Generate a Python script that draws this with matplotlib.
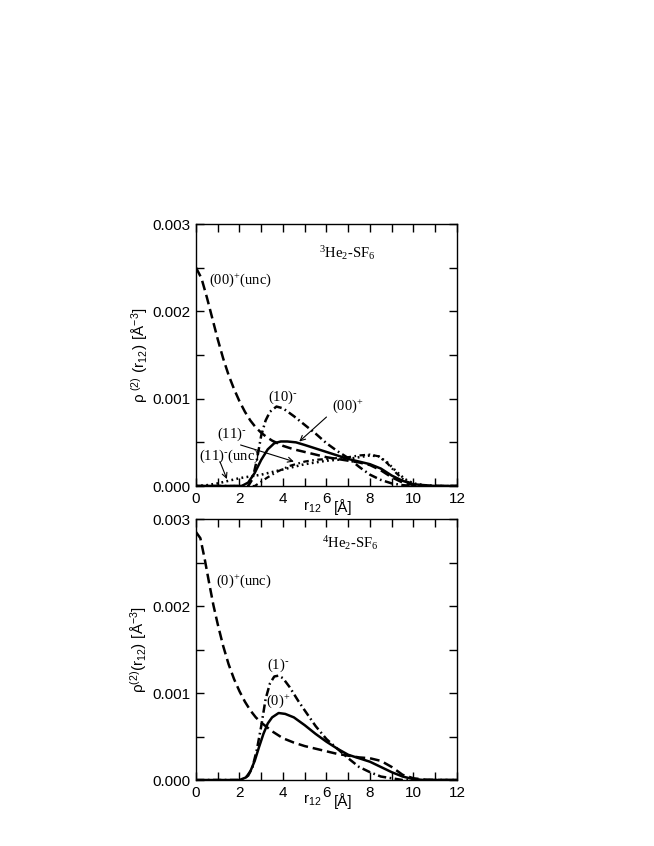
import matplotlib

matplotlib.use("Agg")

import matplotlib.pyplot as plt
from matplotlib.ticker import MultipleLocator

plt.rcParams["font.family"] = ["Liberation Sans", "DejaVu Sans"]
plt.rcParams["lines.scale_dashes"] = False

SERIF = ["Liberation Serif", "DejaVu Serif"]

# --- top panel: 3He2-SF6 (values in units of 1e-3 A^-3) ---
x_unc3 = [0, 0.25, 0.5, 0.75, 1, 1.25, 1.5, 1.75, 2, 2.25, 2.5, 2.75, 3, 3.25, 3.5,
          3.75, 4, 4.5, 5, 5.5, 6, 6.5, 7, 7.5, 8, 8.5, 9, 9.5, 10, 10.5, 11, 12]
y_unc3 = [2.50, 2.38, 2.16, 1.92, 1.68, 1.46, 1.27, 1.11, 0.97, 0.85, 0.75, 0.67, 0.61,
          0.56, 0.52, 0.49, 0.46, 0.42, 0.39, 0.36, 0.33, 0.31, 0.29, 0.27, 0.24, 0.18,
          0.10, 0.04, 0.01, 0.0, 0.0, 0.0]

x_10 = [0, 2.4, 2.6, 2.8, 3.0, 3.2, 3.4, 3.7, 4.0, 4.5, 5.0, 5.5, 6.0, 6.5, 7.0, 7.5,
        8.0, 8.5, 9.0, 9.5, 10, 12]
y_10 = [0, 0, 0.08, 0.30, 0.58, 0.75, 0.85, 0.91, 0.89, 0.80, 0.70, 0.60, 0.49, 0.40,
        0.32, 0.22, 0.13, 0.07, 0.03, 0.01, 0.0, 0.0]

x_00 = [0, 2.1, 2.4, 2.7, 3.0, 3.3, 3.6, 3.9, 4.2, 4.6, 5.0, 5.5, 6.0, 6.5, 7.0, 7.5,
        8.0, 8.5, 9.0, 9.5, 10, 10.5, 11, 12]
y_00 = [0, 0, 0.04, 0.15, 0.30, 0.42, 0.49, 0.51, 0.51, 0.50, 0.47, 0.43, 0.39, 0.35,
        0.31, 0.28, 0.25, 0.20, 0.12, 0.06, 0.02, 0.01, 0.0, 0.0]

x_11 = [0, 2.7, 3.0, 3.3, 3.7, 4.3, 5.0, 5.5, 6.0, 6.5, 7.0, 7.5, 8.0, 8.4, 8.8, 9.2,
        9.6, 10, 10.5, 12]
y_11 = [0, 0, 0.05, 0.10, 0.16, 0.23, 0.28, 0.30, 0.31, 0.32, 0.33, 0.35, 0.36, 0.34,
        0.26, 0.15, 0.06, 0.02, 0.0, 0.0]

x_11unc = [0, 0.5, 1.0, 1.5, 2.0, 2.5, 3.0, 3.5, 4.0, 4.5, 5.0, 5.5, 6.0, 6.5, 7.0, 7.5,
           8.0, 8.4, 8.8, 9.2, 9.6, 10, 10.5, 11, 12]
y_11unc = [0, 0.01, 0.03, 0.06, 0.09, 0.11, 0.13, 0.16, 0.19, 0.22, 0.25, 0.27, 0.29,
           0.30, 0.31, 0.33, 0.35, 0.34, 0.27, 0.17, 0.08, 0.03, 0.01, 0.0, 0.0]

# --- bottom panel: 4He2-SF6 ---
x_unc4 = [0, 0.2, 0.4, 0.6, 0.8, 1.0, 1.25, 1.5, 1.75, 2.0, 2.25, 2.5, 2.75, 3.0, 3.5,
          4.0, 4.5, 5.0, 5.5, 6.0, 6.5, 7.0, 7.5, 8.0, 8.5, 9.0, 9.5, 10, 10.5, 11, 12]
y_unc4 = [2.85, 2.78, 2.54, 2.27, 2.01, 1.79, 1.54, 1.33, 1.16, 1.02, 0.90, 0.80, 0.72,
          0.66, 0.56, 0.48, 0.43, 0.39, 0.36, 0.33, 0.30, 0.28, 0.26, 0.25, 0.22, 0.15,
          0.06, 0.02, 0.005, 0.0, 0.0]

x_0 = [0, 2.0, 2.3, 2.5, 2.7, 2.9, 3.1, 3.3, 3.5, 3.8, 4.1, 4.5, 5.0, 5.5, 6.0, 6.5,
       7.0, 7.5, 8.0, 8.5, 9.0, 9.5, 10, 10.5, 12]
y_0 = [0, 0, 0.03, 0.10, 0.22, 0.38, 0.53, 0.65, 0.72, 0.77, 0.76, 0.72, 0.63, 0.53,
       0.44, 0.36, 0.29, 0.25, 0.21, 0.15, 0.09, 0.04, 0.01, 0.0, 0.0]

x_1 = [0, 2.1, 2.4, 2.6, 2.8, 3.0, 3.2, 3.4, 3.6, 3.8, 4.0, 4.3, 4.7, 5.0, 5.5, 6.0,
       6.5, 7.0, 7.5, 8.0, 8.5, 9.0, 9.5, 12]
y_1 = [0, 0, 0.05, 0.15, 0.35, 0.62, 0.93, 1.11, 1.19, 1.20, 1.17, 1.07, 0.91, 0.80,
       0.62, 0.47, 0.36, 0.25, 0.15, 0.09, 0.04, 0.02, 0.0, 0.0]

DASHED = (0, (7, 3.5))
DASHDOT = (0, (6, 2.5, 1.2, 2.5))
DASHDOT_SHORT = (0, (4, 2.5, 1.2, 2.5))
DOTTED = (0, (1.3, 2.4))


def scale(values):
    return [v * 1e-3 for v in values]


def style_axes(ax):
    ax.set_xlim(0, 12)
    ax.set_ylim(0, 0.003)
    ax.xaxis.set_major_locator(MultipleLocator(2))
    ax.xaxis.set_minor_locator(MultipleLocator(1))
    ax.yaxis.set_major_locator(MultipleLocator(0.001))
    ax.yaxis.set_minor_locator(MultipleLocator(0.0005))
    ax.yaxis.set_major_formatter(plt.FormatStrFormatter("%.3f"))
    ax.tick_params(which="both", direction="in", top=True, right=True,
                   labelsize=11, width=1.0)
    ax.tick_params(which="major", length=6, pad=4)
    ax.tick_params(which="minor", length=6)
    for spine in ax.spines.values():
        spine.set_linewidth(1.0)


def x_label(ax):
    # the "6" tick label sits in the gap between r12 and [A], as in the original
    ax.text(0.481, -0.05, r"$\mathregular{r_{12}}$", transform=ax.transAxes,
            fontsize=11, ha="right", va="top")
    ax.text(0.527, -0.05, "[Å]", transform=ax.transAxes,
            fontsize=11, ha="left", va="top")


def label(ax, text, x, y, size=10.5):
    ax.text(x, y, text, family=SERIF, fontsize=size, ha="left", va="center")


def arrow(ax, start, end):
    ax.annotate("", xy=end, xytext=start,
                arrowprops=dict(arrowstyle="->", lw=0.8, color="black",
                                mutation_scale=9, shrinkA=0, shrinkB=0))


fig = plt.figure(figsize=(6.54, 8.46), dpi=100)
ax1 = fig.add_axes([0.2997, 0.4255, 0.399, 0.3097])
ax2 = fig.add_axes([0.2997, 0.078, 0.399, 0.3085])

# top panel
ax1.plot(x_unc3, scale(y_unc3), color="black", lw=1.8, linestyle=DASHED)
ax1.plot(x_10, scale(y_10), color="black", lw=1.8, linestyle=DASHDOT)
ax1.plot(x_00, scale(y_00), color="black", lw=1.8)
ax1.plot(x_11, scale(y_11), color="black", lw=1.6, linestyle=DASHDOT_SHORT)
ax1.plot(x_11unc, scale(y_11unc), color="black", lw=1.8, linestyle=DOTTED)
style_axes(ax1)
x_label(ax1)
ax1.set_ylabel(r"$\mathregular{\rho^{\ (2)}\ (r_{12})\ [Å^{-3}]}$", fontsize=11)
ax1.yaxis.set_label_coords(-0.175, 0.5)

label(ax1, r"$\mathregular{^3He_2}$-$\mathregular{SF_6}$", 5.65, 0.00267)
label(ax1, r"$\mathregular{(00)^{+}(unc)}$", 0.6, 0.00236)
label(ax1, r"$\mathregular{(10)^{\text{-}}}$", 3.3, 0.00102)
label(ax1, r"$\mathregular{(00)^{+}}$", 6.25, 0.00091)
label(ax1, r"$\mathregular{(11)^{\text{-}}}$", 0.95, 0.00059)
label(ax1, r"$\mathregular{(11)^{\text{-}}(unc)}$", 0.15, 0.00034)
arrow(ax1, (6.0, 0.00079), (4.75, 0.00051))
arrow(ax1, (2.05, 0.00047), (4.5, 0.00028))
arrow(ax1, (1.1, 0.00028), (1.42, 0.00008))

# bottom panel
ax2.plot(x_unc4, scale(y_unc4), color="black", lw=1.8, linestyle=DASHED)
ax2.plot(x_1, scale(y_1), color="black", lw=1.8, linestyle=DASHDOT)
ax2.plot(x_0, scale(y_0), color="black", lw=1.8)
style_axes(ax2)
x_label(ax2)
ax2.set_ylabel(r"$\mathregular{\rho^{(2)}(r_{12})\ [Å^{-3}]}$", fontsize=11)
ax2.yaxis.set_label_coords(-0.18, 0.5)

label(ax2, r"$\mathregular{^4He_2}$-$\mathregular{SF_6}$", 5.8, 0.00272)
label(ax2, r"$\mathregular{(0)^{+}(unc)}$", 0.9, 0.00228)
label(ax2, r"$\mathregular{(1)^{\text{-}}}$", 3.25, 0.00132)
label(ax2, r"$\mathregular{(0)^{+}}$", 3.2, 0.00091)

fig.savefig("out.png", dpi=100)
